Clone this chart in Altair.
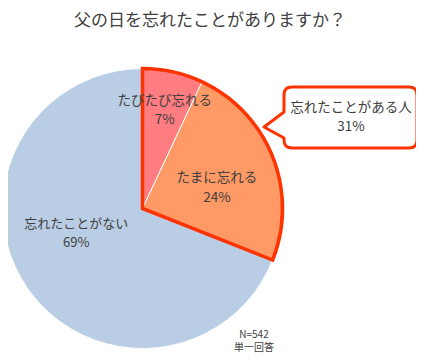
import altair as alt
import pandas as pd
import math

# ---- data ----
categories = ["たびたび忘れる", "たまに忘れる", "忘れたことがない"]
values = [7, 24, 69]
colors = ["#FF7C80", "#FF9966", "#B9CDE4"]
highlight_label = "忘れたことがある人"
highlight_cats = ["たびたび忘れる", "たまに忘れる"]
title_text = "父の日を忘れたことがありますか？"
note_lines = ["N=542", "単一回答"]

df = pd.DataFrame({"cat": categories, "val": values})
df["end"] = df["val"].cumsum()
df["start"] = df["end"] - df["val"]
df["mid"] = (df["start"] + df["end"]) / 2
df["label"] = df["cat"] + "\n" + df["val"].astype(str) + "%"

hl_total = int(df[df["cat"].isin(highlight_cats)]["val"].sum())
hl_df = pd.DataFrame({"start": [0], "end": [hl_total]})

FONT = "Noto Sans CJK JP"
TXT = "#404040"
CX, CY, R = 134.5, 200.5, 140

theta_scale = alt.Scale(domain=[0, 100], range=[0, 2 * math.pi])
color_scale = alt.Scale(domain=categories, range=colors)

base_pos = dict(x=alt.value(CX), y=alt.value(CY))

slices = alt.Chart(df).mark_arc(outerRadius=R, stroke="white", strokeWidth=1).encode(
    theta=alt.Theta("start:Q", scale=theta_scale, stack=None),
    theta2="end:Q",
    color=alt.Color("cat:N", scale=color_scale, legend=None),
    **base_pos,
)

outline = alt.Chart(hl_df).mark_arc(
    outerRadius=R, fillOpacity=0, stroke="#FF3300", strokeWidth=3.5, strokeJoin="miter"
).encode(
    theta=alt.Theta("start:Q", scale=theta_scale, stack=None),
    theta2="end:Q",
    **base_pos,
)

# label placement styles (radius, dx, dy, fontSize) per slice; first line sits at anchor
label_style = {
    "たびたび忘れる": (102, 0, -8, 13.5),
    "たまに忘れる": (80, 0, -1, 13.5),
    "忘れたことがない": (79, -1, -29, 13),
}
label_layers = []
for cat in categories:
    rr, ddx, ddy, fs = label_style[cat]
    label_layers.append(
        alt.Chart(df).transform_filter(alt.datum.cat == cat).mark_text(
            font=FONT, fontSize=fs, color=TXT, lineBreak="\n", lineHeight=19.5,
            align="center", baseline="middle", radius=rr, dx=ddx, dy=ddy,
        ).encode(
            theta=alt.Theta("mid:Q", scale=theta_scale, stack=None),
            text="label:N",
            **base_pos,
        )
    )

# callout bubble (rounded box with pointer) as a custom symbol
bubble_path = (
    "M -0.88 -0.459 L 0.88 -0.459 Q 1 -0.459 1 -0.339 L 1 0.339 Q 1 0.459 0.88 0.459 "
    "L -0.88 0.459 Q -1 0.459 -1 0.339 L -1 0.308 L -1.30 0.143 L -1 -0.083 "
    "L -1 -0.339 Q -1 -0.459 -0.88 -0.459 Z"
)
callout_df = pd.DataFrame({"t": [highlight_label + "\n" + str(hl_total) + "%"]})
bubble = alt.Chart(callout_df).mark_point(
    shape=bubble_path, size=133 * 133, filled=True, fill="white",
    stroke="#FF3300", strokeWidth=3, opacity=1, strokeJoin="round",
).encode(x=alt.value(342.5), y=alt.value(109.5))
callout_text = alt.Chart(callout_df).mark_text(
    font=FONT, fontSize=13.5, color=TXT, lineBreak="\n", lineHeight=19,
    align="center", baseline="middle",
).encode(text="t:N", x=alt.value(343), y=alt.value(100))

title = alt.Chart(pd.DataFrame({"t": [title_text]})).mark_text(
    font=FONT, fontSize=17, color=TXT, align="center", baseline="middle"
).encode(text="t:N", x=alt.value(202), y=alt.value(13))

note = alt.Chart(pd.DataFrame({"t": ["\n".join(note_lines)]})).mark_text(
    font=FONT, fontSize=10, color=TXT, lineBreak="\n", lineHeight=13,
    align="center", baseline="middle"
).encode(text="t:N", x=alt.value(246), y=alt.value(327))

chart = alt.layer(slices, outline, *label_layers, bubble, callout_text, title, note).properties(
    width=408, height=345, padding=0, autosize=alt.AutoSizeParams(type="none")
).configure_view(stroke=None)

chart.save("out.html", embed_options={"renderer": "svg", "actions": False})
